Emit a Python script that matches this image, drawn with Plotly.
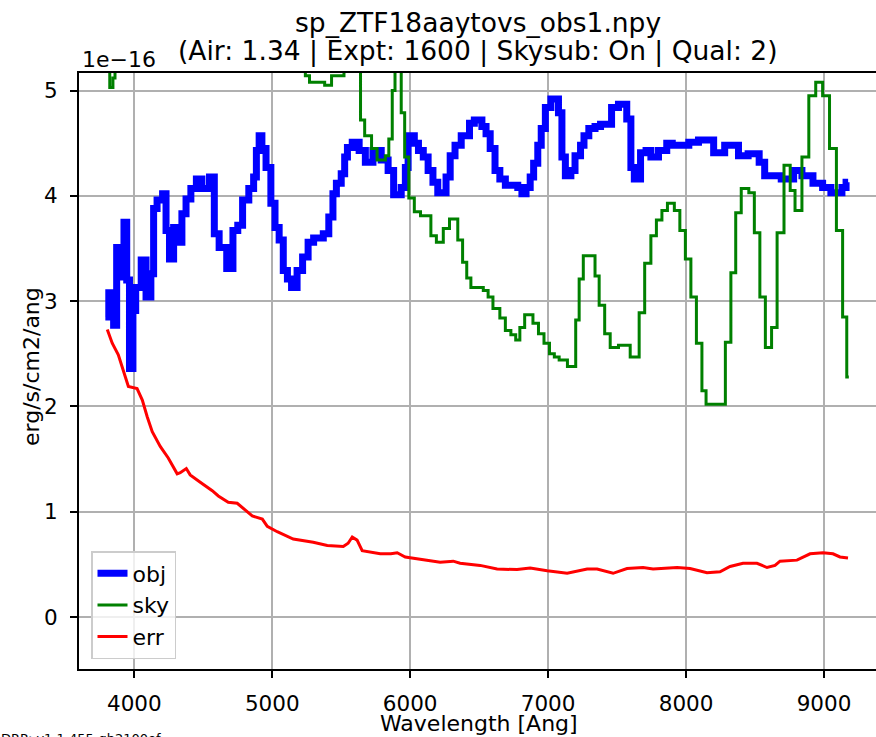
import plotly.graph_objects as go

# Wavelength grid in Angstrom, flux in units of 1e-16 erg/s/cm2/ang

# object spectrum (step starts)
obj_wave = [3790, 3815, 3850, 3872, 3895, 3925, 3945, 3965, 3990, 4010,
            4050, 4085, 4120, 4140, 4165, 4205, 4230, 4255, 4285, 4320,
            4345, 4375, 4410, 4450, 4490, 4545, 4580, 4615, 4670, 4715,
            4750, 4785, 4830, 4865, 4885, 4905, 4925, 4955, 4990, 5020,
            5050, 5080, 5110, 5140, 5180, 5220, 5260, 5300, 5370, 5410,
            5440, 5465, 5500, 5525, 5545, 5580, 5630, 5675, 5730, 5790,
            5840, 5880, 5935, 5965, 5985, 6030, 6060, 6095, 6130, 6165,
            6200, 6260, 6290, 6325, 6370, 6430, 6465, 6520, 6550, 6580,
            6615, 6650, 6690, 6780, 6810, 6840, 6870, 6895, 6925, 6950,
            6980, 7020, 7075, 7100, 7125, 7165, 7195, 7235, 7260, 7295,
            7340, 7380, 7460, 7510, 7570, 7600, 7625, 7670, 7710, 7745,
            7800, 7860, 7900, 8020, 8090, 8200, 8280, 8380, 8450, 8530,
            8570, 8690, 8780, 8840, 8920, 8990, 9050, 9130, 9160, 9175]
obj_flux = [2.85, 3.08, 2.77, 3.51, 3.23, 3.75, 3.20, 2.36, 2.91, 3.13,
            3.39, 3.04, 3.26, 3.88, 3.96, 4.02, 3.67, 3.40, 3.70, 3.56,
            3.83, 3.97, 4.07, 4.16, 4.07, 4.18, 3.64, 3.51, 3.31, 3.67,
            3.72, 3.96, 4.07, 4.18, 4.43, 4.57, 4.45, 4.27, 3.93, 3.70,
            3.58, 3.29, 3.21, 3.13, 3.29, 3.42, 3.56, 3.60, 3.64, 3.80,
            4.02, 4.12, 4.21, 4.37, 4.46, 4.51, 4.43, 4.32, 4.43, 4.34,
            4.24, 4.01, 4.08, 4.27, 4.57, 4.50, 4.43, 4.37, 4.24, 4.13,
            4.03, 4.18, 4.38, 4.48, 4.57, 4.69, 4.72, 4.66, 4.59, 4.45,
            4.24, 4.16, 4.10, 4.08, 4.02, 4.08, 4.18, 4.31, 4.48, 4.64,
            4.84, 4.92, 4.79, 4.37, 4.19, 4.24, 4.38, 4.48, 4.57, 4.64,
            4.66, 4.68, 4.84, 4.87, 4.73, 4.27, 4.16, 4.41, 4.43, 4.37,
            4.43, 4.50, 4.48, 4.51, 4.53, 4.41, 4.48, 4.38, 4.40, 4.32,
            4.19, 4.16, 4.24, 4.19, 4.12, 4.08, 4.03, 4.08, 4.13, 4.13]

# sky spectrum (step starts)
sky_wave = [3790, 3822, 3845, 3860, 4300, 4800, 5240, 5270, 5380, 5430,
            5520, 5640, 5670, 5720, 5760, 5820, 5845, 5870, 5890, 5935,
            5960, 5990, 6030, 6075, 6150, 6190, 6240, 6285, 6345, 6380,
            6410, 6440, 6530, 6565, 6600, 6650, 6690, 6730, 6765, 6795,
            6830, 6890, 6930, 6970, 7010, 7045, 7080, 7140, 7200, 7225,
            7255, 7340, 7370, 7410, 7450, 7510, 7595, 7660, 7700, 7745,
            7785, 7825, 7865, 7915, 7955, 7995, 8035, 8075, 8115, 8145,
            8285, 8325, 8360, 8400, 8455, 8495, 8535, 8575, 8620, 8660,
            8710, 8755, 8790, 8840, 8890, 8940, 8990, 9040, 9090, 9135,
            9165, 9180]
sky_flux = [5.60, 5.03, 5.12, 5.80, 6.20, 5.90, 5.14, 5.08, 5.05, 5.14,
            5.60, 4.72, 4.57, 4.45, 4.34, 4.38, 4.54, 5.00, 6.00, 4.79,
            4.37, 3.98, 3.85, 3.81, 3.62, 3.56, 3.69, 3.78, 3.58, 3.37,
            3.22, 3.13, 3.10, 3.04, 2.93, 2.84, 2.72, 2.68, 2.63, 2.75,
            2.87, 2.79, 2.69, 2.60, 2.50, 2.47, 2.44, 2.38, 2.82, 3.21,
            3.43, 3.24, 2.96, 2.69, 2.56, 2.58, 2.47, 2.89, 3.36, 3.62,
            3.77, 3.86, 3.93, 3.86, 3.67, 3.40, 3.04, 2.60, 2.15, 2.02,
            2.61, 3.27, 3.84, 4.07, 4.03, 3.65, 3.04, 2.56, 2.75, 3.65,
            4.29, 4.05, 3.86, 4.37, 4.95, 5.08, 4.95, 4.45, 3.67, 2.85,
            2.28, 2.28]

# error spectrum
err_wave = [3804, 3840, 3884, 3920, 3957, 4020, 4058, 4094, 4130, 4188,
            4246, 4311, 4333, 4377, 4405, 4478, 4565, 4609, 4681, 4746,
            4804, 4855, 4928, 4964, 5036, 5152, 5297, 5399, 5515, 5550,
            5580, 5615, 5652, 5783, 5860, 5906, 5964, 6072, 6217, 6312,
            6362, 6507, 6630, 6775, 6870, 6993, 7138, 7283, 7355, 7471,
            7572, 7688, 7761, 7935, 8029, 8152, 8246, 8319, 8413, 8514,
            8587, 8645, 8681, 8804, 8848, 8899, 8993, 9065, 9116, 9174]
err_flux = [2.73, 2.60, 2.49, 2.34, 2.19, 2.17, 2.06, 1.90, 1.76, 1.62,
            1.51, 1.36, 1.37, 1.41, 1.35, 1.28, 1.20, 1.15, 1.09, 1.08,
            1.02, 0.96, 0.93, 0.86, 0.81, 0.74, 0.71, 0.68, 0.67, 0.70,
            0.76, 0.73, 0.63, 0.60, 0.60, 0.61, 0.57, 0.55, 0.52, 0.53,
            0.51, 0.49, 0.455, 0.45, 0.465, 0.44, 0.415, 0.455, 0.455, 0.415,
            0.46, 0.47, 0.455, 0.47, 0.46, 0.42, 0.43, 0.48, 0.51, 0.51,
            0.47, 0.49, 0.53, 0.54, 0.57, 0.60, 0.61, 0.60, 0.57, 0.56]

x_ticks = [4000, 5000, 6000, 7000, 8000, 9000]
y_ticks = [0, 1, 2, 3, 4, 5]

title_line1 = "sp_ZTF18aaytovs_obs1.npy"
title_line2 = "(Air: 1.34 | Expt: 1600 | Skysub: On | Qual: 2)"

W, H = 876, 737
ML, MR, MT, MB = 79, 0, 73, 68
FONT = "DejaVu Sans"


def py(pix):
    """pixel row -> paper y"""
    return (H - MB - pix) / (H - MT - MB)


def px(pix):
    """pixel column -> paper x"""
    return (pix - ML) / (W - ML - MR)


fig = go.Figure()
fig.add_trace(go.Scatter(x=obj_wave, y=obj_flux, name="obj", mode="lines",
                         line=dict(color="#0000ff", width=7, shape="hv")))
fig.add_trace(go.Scatter(x=sky_wave, y=sky_flux, name="sky", mode="lines",
                         line=dict(color="#008000", width=3, shape="hv")))
fig.add_trace(go.Scatter(x=err_wave, y=err_flux, name="err", mode="lines",
                         line=dict(color="#ff0000", width=3)))

axis_common = dict(
    showgrid=True, gridcolor="#b0b0b0", gridwidth=1.6,
    zeroline=False, showline=True, linecolor="black", linewidth=1.8,
    ticks="outside", ticklen=7, tickwidth=1.6, tickcolor="black",
    tickfont=dict(family=FONT, size=21.5, color="black"),
)

fig.update_xaxes(range=[3599, 9377], tickvals=x_ticks, mirror=True,
                 ticklabelstandoff=7, **axis_common)
fig.update_yaxes(range=[-0.494, 5.167], tickvals=y_ticks,
                 ticklabelstandoff=8, **axis_common)

annotations = [
    dict(text=title_line1, x=px(477.5), y=py(22), font=dict(size=26.5)),
    dict(text=title_line2, x=px(477.5), y=py(51), font=dict(size=26.5)),
    dict(text="Wavelength [Ang]", x=px(479), y=py(723), font=dict(size=22)),
    dict(text="erg/s/cm2/ang", x=px(31), y=py(367), textangle=-90,
         font=dict(size=22)),
    dict(text="1e\u221216", x=px(80), y=py(59), xanchor="left",
         font=dict(size=22)),
    dict(text="DRP: v1.1.455-gb2100ef", x=px(-1), y=py(729),
         xanchor="left", yanchor="top", font=dict(size=13)),
]
for a in annotations:
    a.setdefault("xanchor", "center")
    a.setdefault("yanchor", "middle")
    a["xref"] = "paper"
    a["yref"] = "paper"
    a["showarrow"] = False
    a["font"] = dict(family=FONT, color="black", **a["font"])

fig.update_layout(
    width=W, height=H,
    margin=dict(l=ML, r=MR, t=MT, b=MB, pad=0),
    paper_bgcolor="white", plot_bgcolor="white",
    font=dict(family=FONT, color="black"),
    annotations=annotations,
    showlegend=True,
    legend=dict(x=px(91), y=py(551), xanchor="left", yanchor="top",
                bgcolor="rgba(255,255,255,0.8)", bordercolor="#cccccc",
                borderwidth=1.5,
                font=dict(family=FONT, size=22, color="black"),
                tracegroupgap=0),
)

fig.write_html("out.html")
